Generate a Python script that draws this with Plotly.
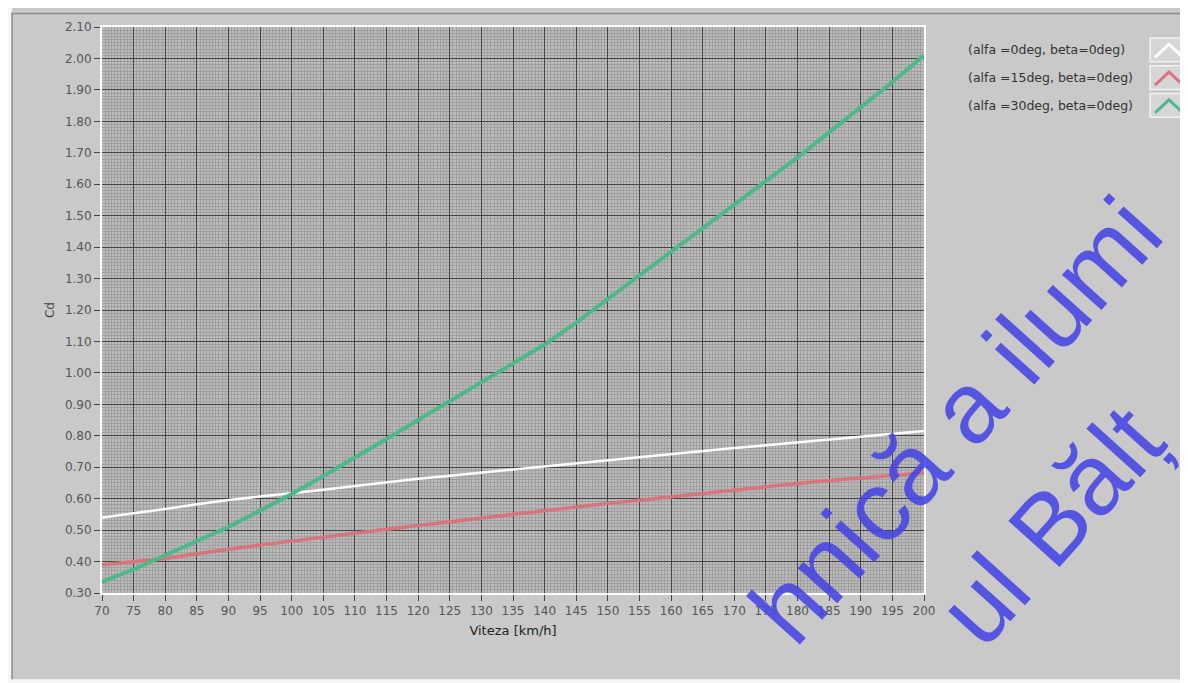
import plotly.graph_objects as go

# ---------------- data ----------------
speed = [70, 75, 80, 85, 90, 95, 100, 105, 110, 115, 120, 125, 130, 135,
         140, 145, 150, 155, 160, 165, 170, 175, 180, 185, 190, 195, 200]
cd_alfa0 = [0.540, 0.553, 0.567, 0.582, 0.596, 0.607, 0.617, 0.628, 0.640,
            0.652, 0.663, 0.673, 0.683, 0.693, 0.703, 0.713, 0.723, 0.733,
            0.743, 0.752, 0.761, 0.770, 0.779, 0.788, 0.797, 0.806, 0.815]
cd_alfa15 = [0.390, 0.400, 0.410, 0.425, 0.440, 0.453, 0.465, 0.478, 0.492,
             0.503, 0.515, 0.527, 0.538, 0.550, 0.562, 0.573, 0.585, 0.595,
             0.606, 0.617, 0.628, 0.638, 0.648, 0.658, 0.666, 0.674, 0.682]
cd_alfa30 = [0.335, 0.375, 0.420, 0.465, 0.510, 0.562, 0.615, 0.672, 0.730,
             0.790, 0.850, 0.910, 0.970, 1.030, 1.090, 1.160, 1.235, 1.310,
             1.385, 1.460, 1.535, 1.610, 1.685, 1.765, 1.845, 1.925, 2.010]
series_names = ["(alfa =0deg, beta=0deg)", "(alfa =15deg, beta=0deg)",
                "(alfa =30deg, beta=0deg)"]
series_values = [cd_alfa0, cd_alfa15, cd_alfa30]
series_colors = ["#ffffff", "#d9737c", "#4db88a"]
series_widths = [2.5, 3.5, 4]
x_title = "Viteza [km/h]"
y_title = "Cd"
watermark_lines = ["hnică a ilumi", "ul Bălț"]

# ---------------- geometry (reference pixels; page has an 8px body margin) ----------------
OFF = 8
W, H = 1188 - OFF, 683 - OFF
L, R, T, B = 102, 924, 22, 593  # plot edges in reference pixels


def px(x):
    return (x - L) / (R - L)


def py(y):
    return (B - y) / (B - T)


fig = go.Figure()
for name, vals, col, w in zip(series_names, series_values, series_colors, series_widths):
    fig.add_trace(go.Scatter(x=speed, y=vals, mode="lines", name=name,
                             line=dict(color=col, width=w), showlegend=False))

tick_font = dict(family="DejaVu Sans", size=12, color="#555555")

fig.update_xaxes(range=[70, 200], tick0=70, dtick=5, ticks="outside", ticklen=6,
                 tickcolor="#444444", tickfont=tick_font,
                 showgrid=True, gridcolor="#444444", gridwidth=1,
                 minor=dict(dtick=0.5, showgrid=True, gridcolor="#a0a0a0", gridwidth=1),
                 showline=True, mirror=True, linecolor="#ffffff", linewidth=2,
                 zeroline=False,
                 title=dict(text=x_title, font=dict(family="DejaVu Sans", size=13, color="#222222"),
                            standoff=8))
fig.update_yaxes(range=[0.3, 2.1], tick0=0.3, dtick=0.1, tickformat=".2f",
                 ticks="outside", ticklen=6, tickcolor="#444444", tickfont=tick_font,
                 showgrid=True, gridcolor="#444444", gridwidth=1,
                 minor=dict(dtick=0.01, showgrid=True, gridcolor="#a0a0a0", gridwidth=1),
                 showline=True, mirror=True, linecolor="#ffffff", linewidth=2,
                 zeroline=False,
                 title=dict(text=y_title, font=dict(family="DejaVu Sans", size=12, color="#444444"),
                            standoff=8))

shapes = []
annotations = []
# white scan margins (left strip and bottom strip) plus border line
shapes.append(dict(type="rect", xref="paper", yref="paper", x0=px(0), x1=px(12), y0=py(0), y1=py(H + OFF + 5),
                   fillcolor="#f6f6f6", line=dict(width=0), layer="above"))
shapes.append(dict(type="rect", xref="paper", yref="paper", x0=px(0), x1=px(W + OFF + 5), y0=py(680), y1=py(H + OFF + 5),
                   fillcolor="#f6f6f6", line=dict(width=0), layer="above"))
shapes.append(dict(type="path", xref="paper", yref="paper",
                   path=f"M {px(12)},{py(680)} L {px(12)},{py(8.5)} L {px(W + OFF)},{py(8.5)}",
                   line=dict(color="#8a8a8a", width=1.5)))

# legend (text + icons on the right)
row_y = [45, 73, 101]
for name, col, yc in zip(series_names, series_colors, row_y):
    annotations.append(dict(xref="paper", yref="paper", x=px(966), y=py(yc), xanchor="left",
                            yanchor="middle", text=name, showarrow=False,
                            font=dict(family="DejaVu Sans", size=12.5, color="#333333")))
    shapes.append(dict(type="rect", xref="paper", yref="paper", x0=px(1150), x1=px(1187),
                       y0=py(yc + 12), y1=py(yc - 12), fillcolor="#d6d6d6",
                       line=dict(color="#f2f2f2", width=1.5)))
    shapes.append(dict(type="path", xref="paper", yref="paper",
                       path=f"M {px(1155)},{py(yc + 7.5)} L {px(1169)},{py(yc - 5.5)} L {px(1183)},{py(yc + 7.5)}",
                       line=dict(color=col, width=3)))

# scan watermark
wm_centers = [(955, 418), (1050, 524)]
for txt, (cx, cy) in zip(watermark_lines, wm_centers):
    annotations.append(dict(xref="paper", yref="paper", x=px(cx), y=py(cy), xanchor="center",
                            yanchor="middle", text=txt, showarrow=False, textangle=-48,
                            font=dict(family="Liberation Sans", size=100, color="rgba(68,68,228,0.88)")))

fig.update_layout(width=W, height=H, autosize=False,
                  margin=dict(l=L - OFF, r=W + OFF - R, t=T - OFF, b=H + OFF - B),
                  paper_bgcolor="#c9c9c9", plot_bgcolor="#bcbcbc",
                  shapes=shapes, annotations=annotations, showlegend=False)

fig.write_html("out.html")
